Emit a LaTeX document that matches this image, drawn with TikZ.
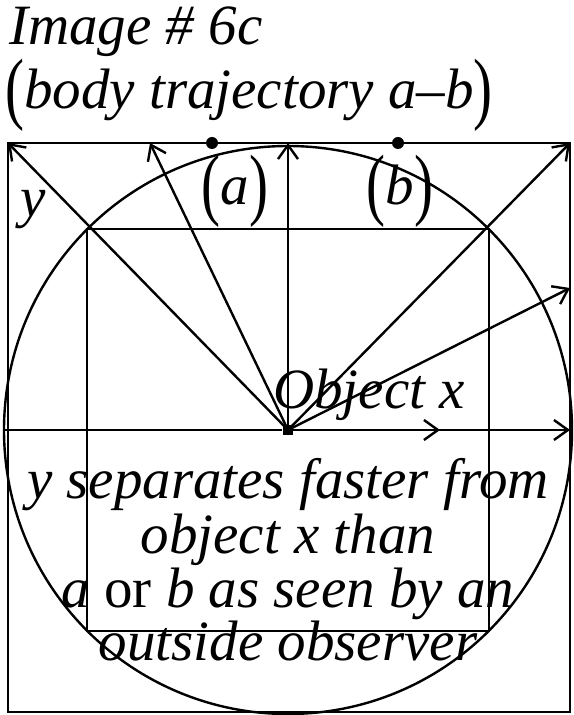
\documentclass[tikz,border=0pt]{standalone}
\usepackage{fontspec}
\setmainfont{Liberation Serif}
\usepackage{graphicx}
\usetikzlibrary{arrows.meta}
\newcommand{\tallparen}[1]{\raisebox{-0.1em}{\scalebox{1}[1.4]{\upshape #1}}}

\begin{document}
\begin{tikzpicture}[x=0.5pt, y=-0.5pt, line width=1.2pt,
    vec/.style={-{Straight Barb[length=7pt,width=10pt]}},
    txt/.style={font=\fontsize{28.5}{28}\selectfont\itshape, inner sep=0pt},
    dot/.style={circle, fill, inner sep=0pt, minimum size=6pt}]
    \useasboundingbox (0,0) rectangle (573,715);

    % Title
    \node[txt, anchor=base west] (title) at (8,45) {Image \# 6c};
    \node[txt, anchor=base west] (subtitle) at (4,109)
        {\tallparen{(}body trajectory a\textendash b\tallparen{)}};

    % Outer frame, circle and inscribed square
    \coordinate (tl) at (8,143);
    \coordinate (br) at (570,712);
    \draw (tl) rectangle (br);
    \node[dot, minimum size=5pt, rectangle] (O) at (288,430) {};
    \draw (O) circle (284);
    \draw (87,229) rectangle (489,631);

    % Body positions on the top edge
    \node[dot] (a) at (212,143) {};
    \node[dot] (b) at (398,143) {};
    \node[txt, anchor=base] (la) at (235,205) {\tallparen{(}a\tallparen{)}};
    \node[txt, anchor=base] (lb) at (400,205) {\tallparen{(}b\tallparen{)}};
    \node[txt, anchor=base] (ly) at (33,217) {y};

    % Ends of the vectors
    \coordinate (t1) at (150,143);
    \coordinate (t2) at (288,143);
    \coordinate (tr) at (570,143);
    \coordinate (r1) at (570,288);
    \coordinate (r2) at (570,430);
    \coordinate (s) at (440,430);
    \coordinate (w) at (4,430);

    % Vectors from object x
    \draw (w) -- (O);
    \foreach \e in {tl, t1, t2, tr, r1, r2, s} {
        \draw[vec] (O.center) -- (\e);
    }
    \node[txt, anchor=base west] (objx) at (272,408) {Object x};

    % Caption inside the circle
    \foreach \i/\yy/\txt in {1/498/{y separates faster from},
                             2/553/{object x than},
                             3/607/{a {\upshape or} b as seen by an},
                             4/660/{outside observer}} {
        \node[txt, anchor=base] (line\i) at (288,\yy) {\txt};
    }
\end{tikzpicture}
\end{document}
